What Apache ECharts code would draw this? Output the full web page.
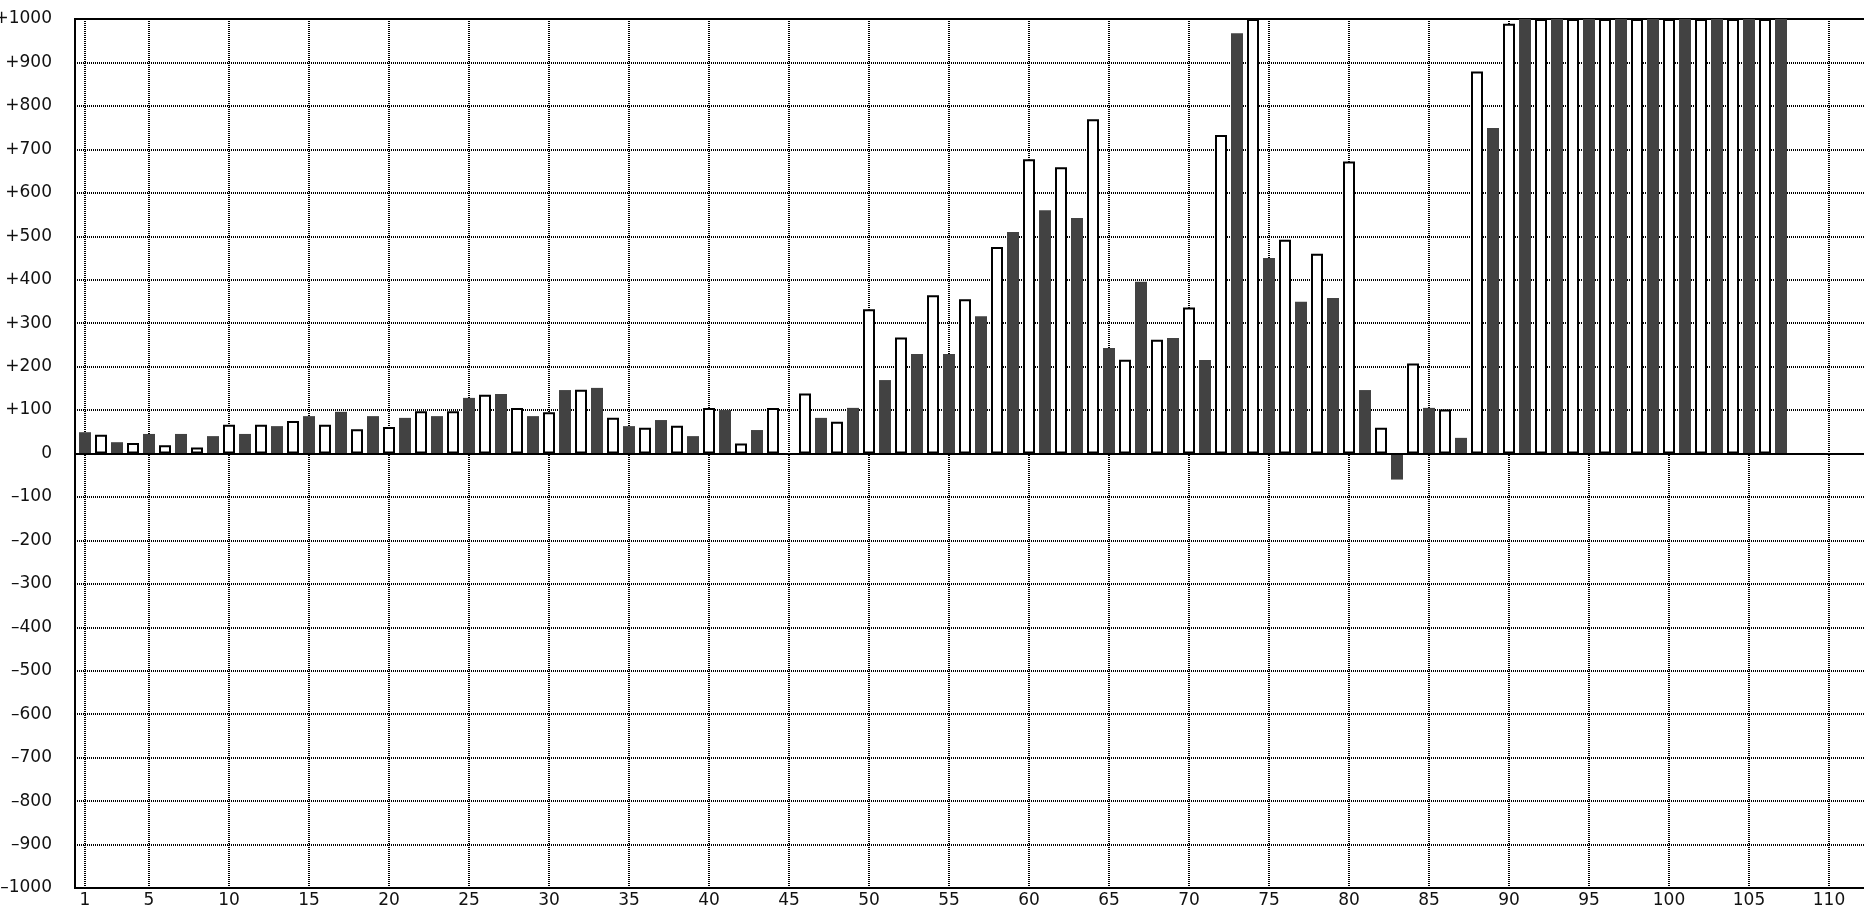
<!DOCTYPE html>
<html>
<head>
<meta charset="utf-8">
<script src="https://cdn.jsdelivr.net/npm/echarts@6/dist/echarts.min.js"></script>
<style>
  html, body { margin: 0; padding: 0; background: #fff; }
  #chart { width: 1864px; height: 908px; }
</style>
</head>
<body>
<div id="chart"></div>
<script>
// Odd positions 1,3,5,...,107 (dark bars)
const darkValues = [49, 26, 45, 45, 40, 45, 63, 86, 96, 86, 82, 86, 128, 137, 86, 146, 151, 63, 77, 40,
  100, 54, 0, 82, 105, 169, 229, 229, 316, 510, 560, 542, 243, 395, 266, 215, 967, 450, 349, 358,
  146, -60, 105, 36, 749, 1000, 1000, 1000, 1000, 1000, 1000, 1000, 1000, 1000];
// Even positions 2,4,6,...,106 (white bars)
const whiteValues = [43, 24, 19, 14, 66, 66, 75, 66, 56, 61, 97, 97, 135, 105, 95, 147, 82, 59, 64, 105,
  23, 105, 138, 73, 332, 267, 364, 355, 475, 677, 659, 769, 216, 262, 336, 733, 1000, 492, 460, 672,
  59, 207, 101, 879, 989, 1000, 1000, 1000, 1000, 1000, 1000, 1000, 1000];
const xTickValues = [1, 5, 10, 15, 20, 25, 30, 35, 40, 45, 50, 55, 60, 65, 70, 75, 80, 85, 90, 95, 100, 105, 110];

const darkData = darkValues.map((v, i) => [1 + 2 * i, v]);
const whiteData = whiteValues.map((v, i) => [2 + 2 * i, v]);

const chart = echarts.init(document.getElementById('chart'), null, { renderer: 'canvas' });
const labelFont = { fontFamily: 'DejaVu Sans', fontSize: 17, color: '#111' };
const dotted = { color: '#000', width: 2, type: [1, 1] };

chart.setOption({
  animation: false,
  backgroundColor: '#fff',
  grid: {
    left: 75, top: 19, right: -10, bottom: 20,
    containLabel: false,
    outerBoundsMode: 'none',
    show: true, borderColor: '#000', borderWidth: 2, backgroundColor: 'transparent'
  },
  xAxis: {
    type: 'value',
    min: 0.375,
    max: 112.8125,
    axisLine: { show: false },
    axisTick: { show: false, customValues: xTickValues },
    axisLabel: Object.assign({ customValues: xTickValues, margin: 4 }, labelFont),
    splitLine: { show: true, lineStyle: dotted }
  },
  yAxis: {
    type: 'value',
    min: -1000,
    max: 1000,
    interval: 100,
    axisLine: { show: false },
    axisTick: { show: false },
    axisLabel: Object.assign({
      margin: 23,
      formatter: v => v > 0 ? '+' + v : (v < 0 ? '\u2013' + Math.abs(v) : '0')
    }, labelFont),
    splitLine: { show: true, lineStyle: dotted }
  },
  series: [
    { type: 'bar', data: darkData, barWidth: 12, barGap: '-100%', itemStyle: { color: '#424242' } },
    {
      type: 'bar', data: whiteData, barWidth: 12, barGap: '-100%',
      itemStyle: { color: '#fff', borderColor: '#000', borderWidth: 2 },
      markLine: { silent: true, symbol: 'none', label: { show: false },
        lineStyle: { color: '#000', width: 2, type: 'solid' }, data: [{ yAxis: 0 }] }
    }
  ]
});
</script>
</body>
</html>
